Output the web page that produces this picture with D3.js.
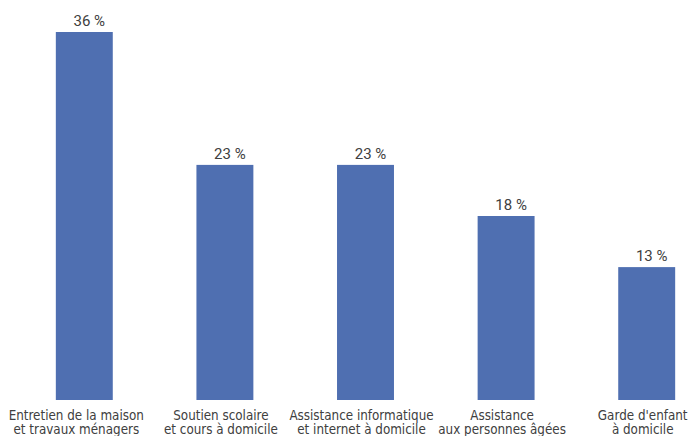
<!DOCTYPE html>
<html>
<head>
<meta charset="utf-8">
<script src="https://cdn.jsdelivr.net/npm/d3@7"></script>
<style>
  body { margin: 0; background: #fff; }
  svg { display: block; }
</style>
</head>
<body>
<svg width="691" height="436"></svg>
<script>
// valeurs
var categories = [
  ["Entretien de la maison", "et travaux ménagers"],
  ["Soutien scolaire", "et cours à domicile"],
  ["Assistance informatique", "et internet à domicile"],
  ["Assistance", "aux personnes âgées"],
  ["Garde d'enfant", "à domicile"]
];
var values = [36, 23, 23, 18, 13];

var width = 691;
var height = 436;
var margin = ({top: 32, right: 0, bottom: 36, left: 14});

var x = d3.scaleBand()
    .domain(d3.range(values.length))
    .range([margin.left, margin.left + 5 * 140.6])
    .paddingInner(0.595)
    .paddingOuter(0.2975);

var y = d3.scaleLinear()
    .domain([0, 36])
    .range([height - margin.bottom, margin.top]);

(function chart () {
  var svg = d3.select("svg");

  svg.append("g")
    .selectAll("rect")
    .data(values)
    .join("rect")
      .attr("x", (d, i) => x(i))
      .attr("y", d => y(d))
      .attr("width", x.bandwidth())
      .attr("height", d => y(0) - y(d))
      .attr("fill", "#4f6fb1");

  svg.append("g")
      .attr("font-family", "Roboto, sans-serif")
      .attr("font-size", 15)
      .attr("fill", "#404040")
      .attr("text-anchor", "middle")
    .selectAll("text")
    .data(values)
    .join("text")
      .attr("x", (d, i) => x(i) + x.bandwidth() / 2 + 5)
      .attr("y", d => y(d) - 6)
      .text(d => d + " %");

  var labels = svg.append("g")
      .attr("font-family", "'DejaVu Sans Condensed', sans-serif")
      .attr("font-size", 13.3)
      .attr("fill", "#404040")
      .attr("text-anchor", "middle")
    .selectAll("text")
    .data(categories)
    .join("text")
      .attr("x", (d, i) => x(i) + x.bandwidth() / 2 - (i ? 4 : 8))
      .attr("y", y(0) + 20);

  labels.selectAll("tspan")
    .data(d => d)
    .join("tspan")
      .attr("x", function () { return this.parentNode.getAttribute("x"); })
      .attr("dy", (d, i) => i ? 14 : 0)
      .text(d => d);

  return svg.node();
})();
</script>
</body>
</html>
